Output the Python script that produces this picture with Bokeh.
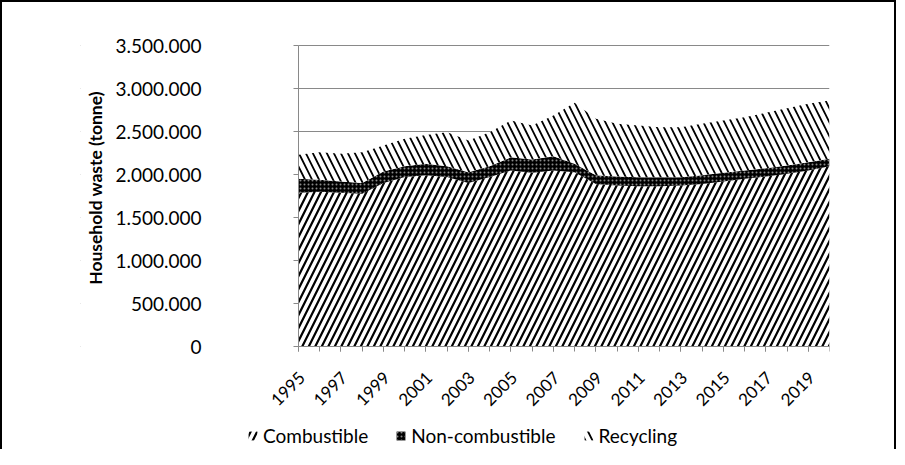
import math
from bokeh.plotting import figure
from bokeh.models import (ColumnDataSource, Range1d, FixedTicker, Legend, LegendItem,
                          BoxAnnotation)
from bokeh.core.properties import value
from bokeh.embed import file_html
from bokeh.resources import INLINE

# ---- data (tonnes) ----
years = list(range(1995, 2021))
combustible = [1787000, 1800000, 1787000, 1775000, 1900000, 1970000, 1990000, 1970000,
               1900000, 1970000, 2047000, 2020000, 2047000, 2027000, 1890000, 1872000,
               1864000, 1864000, 1872000, 1890000, 1920000, 1950000, 1977000, 2008000,
               2047000, 2097000]
non_combustible = [163000, 140000, 133000, 125000, 135000, 127000, 134000, 127000,
                   127000, 127000, 153000, 154000, 166000, 97000, 100000, 105000,
                   105000, 105000, 97000, 100000, 100000, 97000, 96000, 97000,
                   96000, 86000]
recycling = [279000, 319000, 320000, 360000, 302000, 318000, 336000, 393000,
             368000, 393000, 428000, 396000, 473000, 710000, 658000, 613000,
             601000, 581000, 581000, 600000, 608000, 620000, 644000, 666000,
             679000, 677000]
series_names = ["Combustible", "Non-combustible", "Recycling"]
x_label_years = years[::2]
x_labels = [str(y) for y in x_label_years]
y_tick_values = [0, 500000, 1000000, 1500000, 2000000, 2500000, 3000000, 3500000]
y_tick_labels = ["0", "500.000", "1.000.000", "1.500.000", "2.000.000",
                 "2.500.000", "3.000.000", "3.500.000"]
y_title = "Household waste (tonne)"

FONT = "Lato"
GRAY = "#898989"

# ---- layout geometry (screen pixels; ORIGIN = observed canvas offset) ----
ORIGIN = 2
W, H = 896, 449
AXIS_LEFT, AXIS_RIGHT = 298, 829      # where the first / last year sit
FRAME_LEFT, FRAME_TOP = 80, 20        # frame reaches out to hold labels and legend
VAL_TOP, VAL_ZERO, FRAME_BOTTOM = 45, 346, 451
y_max = y_tick_values[-1]
px_per_val = (VAL_ZERO - VAL_TOP) / y_max
px_per_year = (AXIS_RIGHT - AXIS_LEFT) / (years[-1] - years[0])
x_start = years[0] - (AXIS_LEFT - FRAME_LEFT) / px_per_year
y_start = -(FRAME_BOTTOM - VAL_ZERO) / px_per_val
y_end = y_max + (VAL_TOP - FRAME_TOP) / px_per_val

source = ColumnDataSource(dict(year=years, combustible=combustible,
                               non_combustible=non_combustible, recycling=recycling))
x_label_source = ColumnDataSource(dict(x=x_label_years, y=[0] * len(x_label_years),
                                       text=x_labels))
y_label_source = ColumnDataSource(dict(x=[years[0]] * len(y_tick_values),
                                       y=y_tick_values, text=y_tick_labels))
title_source = ColumnDataSource(dict(x=[years[0]], y=[y_max / 2], text=[y_title]))

p = figure(width=W, height=H, output_backend="svg", toolbar_location=None,
           x_range=Range1d(x_start, years[-1]), y_range=Range1d(y_start, y_end),
           x_axis_location="above",
           min_border_left=FRAME_LEFT - ORIGIN,
           min_border_right=ORIGIN + W - AXIS_RIGHT,
           min_border_top=FRAME_TOP - ORIGIN,
           min_border_bottom=max(ORIGIN + H - FRAME_BOTTOM, 0),
           styles={"border-top": "2px solid black", "border-left": "2px solid black",
                   "border-right": "2px solid black"})
p.outline_line_color = None

p.xgrid.visible = False
p.ygrid.grid_line_color = GRAY
p.ygrid.grid_line_width = 1
p.ygrid.ticker = FixedTicker(ticks=y_tick_values)
# hide the grid lines to the left of the value axis
p.add_layout(BoxAnnotation(right=years[0], fill_color="white", fill_alpha=1,
                           line_color=None, level="underlay"))

renderers = p.varea_stack(
    stackers=["combustible", "non_combustible", "recycling"], x="year", source=source,
    fill_color=["white", "black", "white"],
    hatch_pattern=["/", "dot", "\\"],
    hatch_color=["black", "#8a8a8a", "black"],
    hatch_scale=[13, 4, 14],
    hatch_weight=[2.2, 1.0, 1.8],
)

# category (year) axis, drawn at value 0 with ticks pointing down
p.xaxis.fixed_location = 0
p.xaxis.bounds = (years[0], years[-1])
p.xaxis.ticker = FixedTicker(ticks=x_label_years, minor_ticks=years)
p.xaxis.major_label_text_font_size = "0px"
p.xaxis.major_label_text_alpha = 0
p.xaxis.major_label_standoff = 0
p.xaxis.axis_line_color = GRAY
p.xaxis.major_tick_line_color = GRAY
p.xaxis.minor_tick_line_color = GRAY
p.xaxis.major_tick_in = 5
p.xaxis.major_tick_out = 0
p.xaxis.minor_tick_in = 5
p.xaxis.minor_tick_out = 0

p.text(x="x", y="y", text="text", source=x_label_source, angle=math.pi / 4,
       text_align="right", text_baseline="middle", x_offset=3, y_offset=28,
       text_font=value(FONT), text_font_size="17px", text_color="black")

# value axis at the first year, ticks pointing left
p.yaxis.fixed_location = years[0]
p.yaxis.bounds = (0, y_max)
p.yaxis.ticker = FixedTicker(ticks=y_tick_values)
p.yaxis.major_label_text_font_size = "0px"
p.yaxis.major_label_text_alpha = 0
p.yaxis.major_label_standoff = 0
p.yaxis.axis_line_color = GRAY
p.yaxis.major_tick_line_color = GRAY
p.yaxis.major_tick_in = 0
p.yaxis.major_tick_out = 5
p.yaxis.minor_tick_line_color = None

p.text(x="x", y="y", text="text", source=y_label_source,
       text_align="right", text_baseline="middle", x_offset=-97,
       text_font=value(FONT), text_font_size="19px", text_color="black")
p.text(x="x", y="y", text="text", source=title_source, angle=math.pi / 2,
       text_align="center", text_baseline="middle", x_offset=-203, y_offset=-8,
       text_font=value(FONT), text_font_size="17.5px", text_font_style="bold",
       text_color="black")

legend = Legend(
    items=[LegendItem(label=n, renderers=[r]) for n, r in zip(series_names, renderers)],
    orientation="horizontal", location=(247 - FRAME_LEFT, 4),
    border_line_color=None, background_fill_alpha=0,
    padding=0, margin=0, spacing=27,
    glyph_width=11, glyph_height=11, label_standoff=5,
    label_text_font=FONT, label_text_font_size="19px", label_text_color="black",
)
p.add_layout(legend)

open("out.html", "w").write(file_html(p, INLINE))
